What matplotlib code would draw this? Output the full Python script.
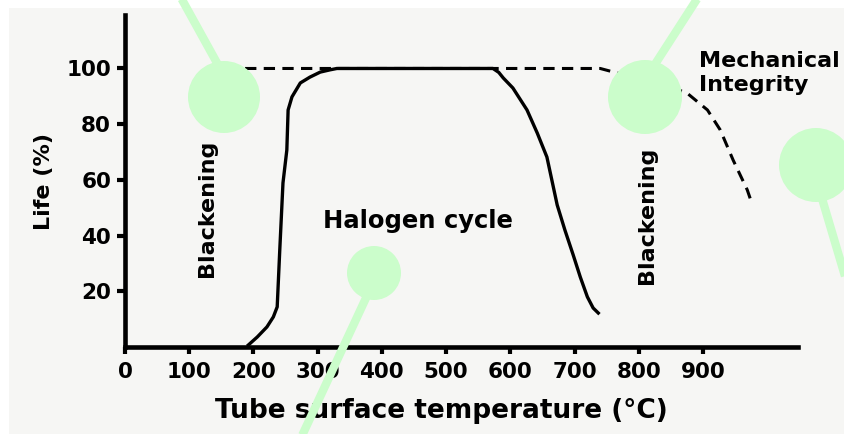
import matplotlib
matplotlib.use("Agg")
import matplotlib.pyplot as plt
from matplotlib.patches import Ellipse, Rectangle
from matplotlib.lines import Line2D

plt.rcParams['font.family'] = ['DejaVu Sans']
plt.rcParams['font.weight'] = 'bold'

# ---- data (temperature in °C, life in %) ----
life_temp = [192, 206, 221, 231, 237, 241, 246, 252, 254, 260, 273, 288, 304, 319, 330,
             573, 582, 589, 604, 626, 642, 657, 673, 685, 698, 709, 720, 729, 737]
life_pct = [0.7, 3.6, 7.2, 10.8, 14.4, 34.8, 58.9, 70.7, 85.1, 89.8, 94.8, 96.9, 98.7, 99.5, 100,
            100, 98.6, 96.6, 93.0, 85.1, 76.8, 68.2, 51.0, 42.0, 33.0, 25.1, 18.0, 14.0, 12.2]

mech_temp = [187, 740, 766, 818, 875, 907, 927, 947, 969, 977]
mech_pct = [100, 100, 98.4, 95.9, 91.2, 85.1, 77.9, 67.1, 56.4, 51.0]

x_ticks = [0, 100, 200, 300, 400, 500, 600, 700, 800, 900]
y_ticks = [20, 40, 60, 80, 100]

x_label = "Tube surface temperature (°C)"
y_label = "Life (%)"

W, H = 845, 434
def fp(x, y):
    return (x / W, 1 - y / H)

fig = plt.figure(figsize=(W / 100, H / 100), dpi=100, facecolor='white')
# grey panel
fig.add_artist(Rectangle(fp(9, 434), (W - 9) / W, (434 - 8) / H, transform=fig.transFigure,
                         facecolor='#f6f6f4', edgecolor='none', zorder=0))

ax = fig.add_axes([125 / W, 1 - 347 / H, 673 / W, 332 / H])
ax.set_facecolor('none')
ax.set_xlim(0, 1048)
ax.set_ylim(0, 119.2)

ax.plot(mech_temp, mech_pct, color='black', lw=2.2, dashes=(3.7, 2.4), zorder=2)
ax.plot(life_temp, life_pct, color='black', lw=2.4, zorder=3, solid_joinstyle='round')

for s in ['top', 'right']:
    ax.spines[s].set_visible(False)
for s in ['left', 'bottom']:
    ax.spines[s].set_linewidth(3.3)
    ax.spines[s].set_color('black')

ax.set_xticks(x_ticks)
ax.set_yticks(y_ticks)
ax.tick_params(axis='both', direction='out', width=3, colors='black', labelsize=15.5)
ax.tick_params(axis='y', length=6, pad=4)
ax.tick_params(axis='x', length=5, pad=6)
for lab in ax.get_xticklabels() + ax.get_yticklabels():
    lab.set_fontweight('bold')

ax.set_xlabel(x_label, fontsize=19, fontweight='bold', va='center')
ax.xaxis.set_label_coords((441.5 - 125) / 673, (347 - 411) / 332)
ax.set_ylabel(y_label, fontsize=16, fontweight='bold', va='center')
ax.yaxis.set_label_coords((44 - 125) / 673, (347 - 181) / 332)

# annotations
fig.text(*fp(207, 208), "Blackening", rotation=90, ha='center', va='center',
         fontsize=16, fontweight='bold')
fig.text(*fp(647, 215), "Blackening", rotation=90, ha='center', va='center',
         fontsize=16, fontweight='bold')
fig.text(*fp(418, 221), "Halogen cycle", ha='center', va='center',
         fontsize=17.5, fontweight='bold')
fig.text(*fp(699, 51), "Mechanical\nIntegrity", ha='left', va='top',
         fontsize=16, fontweight='bold', linespacing=1.22)

# green overlay markers
green = '#cbfdcb'
circles = [(224, 97, 36), (645, 97, 37), (816, 165, 37), (374, 273, 27)]
for cx, cy, r in circles:
    fig.add_artist(Ellipse(fp(cx, cy), 2 * r / W, 2 * r / H, transform=fig.transFigure,
                           facecolor=green, edgecolor='none', zorder=10))
segs = [((180, -4), (222, 72)), ((699, -4), (650, 72)), ((818, 185), (858, 320)),
        ((372, 285), (300, 440))]
for (x0, y0), (x1, y1) in segs:
    a, b = fp(x0, y0), fp(x1, y1)
    fig.add_artist(Line2D([a[0], b[0]], [a[1], b[1]], transform=fig.transFigure,
                          color=green, lw=6, solid_capstyle='butt', zorder=10))

fig.savefig("out.png", dpi=100, facecolor='white')
